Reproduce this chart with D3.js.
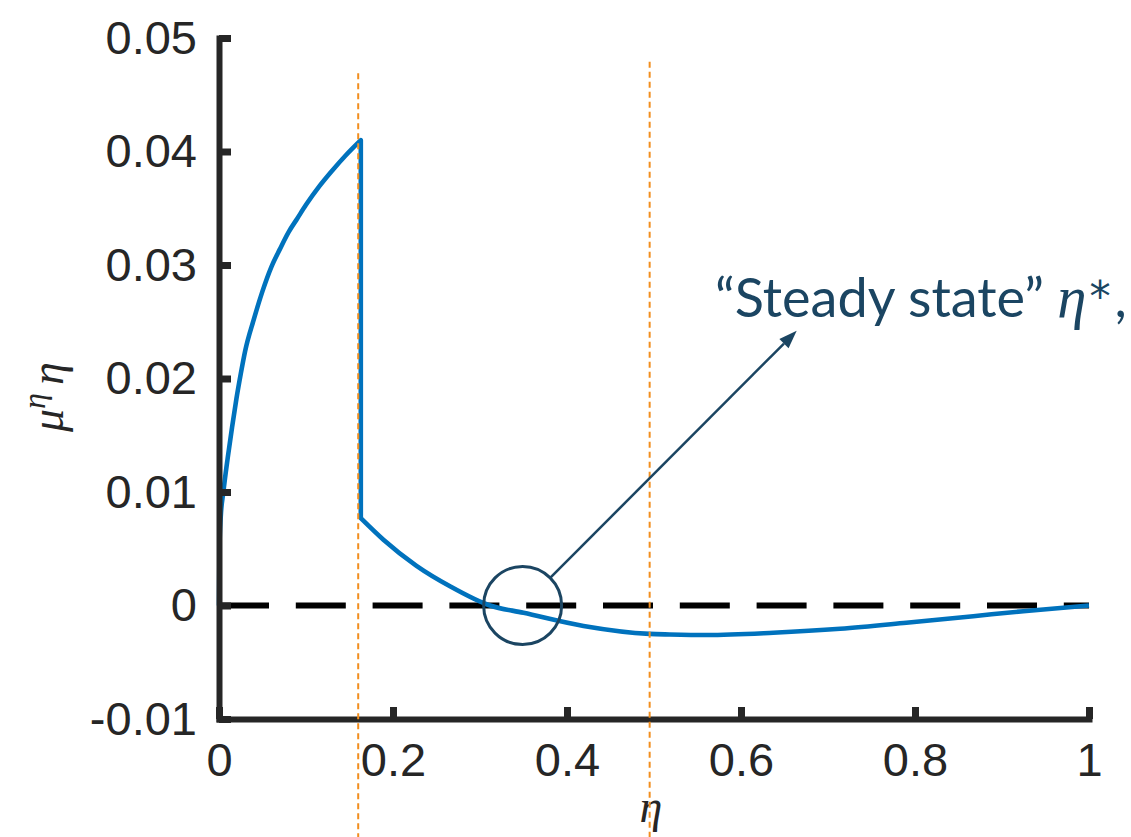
<!DOCTYPE html>
<html>
<head>
<meta charset="utf-8">
<script src="https://cdn.jsdelivr.net/npm/d3@7"></script>
<style>
  html, body { margin: 0; padding: 0; background: #fff; }
  svg { display: block; }
</style>
</head>
<body>
<svg id="chart" width="1131" height="837"></svg>
<script>
// Drift of the state variable, mu^eta * eta, as a function of eta.
// Left branch: below the first regime boundary (jump at eta ~ 0.163).
const etaLeft = [0, 0.0005, 0.002, 0.005, 0.010, 0.015, 0.020, 0.025, 0.030, 0.040, 0.050, 0.060, 0.070, 0.080, 0.090, 0.100, 0.115, 0.130, 0.145, 0.163];
const muLeft  = [0, 0.0050, 0.0078, 0.0100, 0.0130, 0.0157, 0.0182, 0.0204, 0.0224, 0.0252, 0.0277, 0.0298, 0.0314, 0.0329, 0.0341, 0.0353, 0.0369, 0.0383, 0.0396, 0.0410];
// Right branch: after the jump down, crossing zero near eta ~ 0.31.
const etaRight = [0.163, 0.189, 0.227, 0.2655, 0.3115, 0.350, 0.419, 0.495, 0.518, 0.561, 0.637, 0.714, 0.790, 0.867, 0.9245, 1.0];
const muRight  = [0.0077, 0.0058, 0.0035, 0.0017, 0.0000, -0.00064, -0.0018, -0.0025, -0.00255, -0.0026, -0.0024, -0.00205, -0.00152, -0.00094, -0.0005, 0.0];

const xTicks = [0, 0.2, 0.4, 0.6, 0.8, 1];
const xTickLabels = ["0", "0.2", "0.4", "0.6", "0.8", "1"];
const yTicks = [-0.01, 0, 0.01, 0.02, 0.03, 0.04, 0.05];
const yTickLabels = ["-0.01", "0", "0.01", "0.02", "0.03", "0.04", "0.05"];

// Regime boundaries (dotted verticals) and where each one starts at the top
const regimeEta = [0.16, 0.495];
const regimeTop = [0.0469, 0.0479];

// Steady-state call-out: circled crossing, arrow tip and caption anchor
const steadyEta = 0.349;
const arrowTip = [0.664, 0.0242];
const captionAt = [0.570, 0.0254];

const W = 1131, H = 837;
const axisColor = "#262626";
const noteColor = "#1b4562";

const svg = d3.select("#chart");
svg.append("rect").attr("width", W).attr("height", H).attr("fill", "#fff");

const x = d3.scaleLinear().domain([0, 1]).range([219, 1089]);
const y = d3.scaleLinear().domain([-0.01, 0.05]).range([719, 38]);

// Zero reference line (long dashes)
svg.append("line")
  .attr("x1", x(0)).attr("x2", x(1))
  .attr("y1", y(0)).attr("y2", y(0))
  .attr("stroke", "#000").attr("stroke-width", 6)
  .attr("stroke-dasharray", "50,26.8");

// Curve: two monotone branches joined by the vertical jump
const line = d3.line().x(d => x(d[0])).y(d => y(d[1])).curve(d3.curveMonotoneX);
const left = etaLeft.map((e, i) => [e, muLeft[i]]);
const right = etaRight.map((e, i) => [e, muRight[i]]);
const pathD = line(left) + "L" + line(right).slice(1);
svg.append("path")
  .attr("d", pathD)
  .attr("fill", "none")
  .attr("stroke", "#0072BD")
  .attr("stroke-width", 4.6)
  .attr("stroke-linejoin", "round");

// Axes
const gx = svg.append("g")
  .attr("transform", `translate(0,${y(-0.01)})`)
  .call(d3.axisBottom(x).tickValues(xTicks).tickFormat((d, i) => xTickLabels[i])
    .tickSizeInner(-12).tickSizeOuter(0).tickPadding(24));
const gy = svg.append("g")
  .attr("transform", `translate(${x(0)},0)`)
  .call(d3.axisLeft(y).tickValues(yTicks).tickFormat((d, i) => yTickLabels[i])
    .tickSizeInner(-12).tickSizeOuter(0).tickPadding(22));

[gx, gy].forEach(g => {
  g.select(".domain").attr("stroke", axisColor).attr("stroke-width", 6).attr("stroke-linecap", "square");
  g.selectAll(".tick line").attr("stroke", axisColor).attr("stroke-width", 7);
  g.selectAll(".tick text")
    .attr("fill", axisColor)
    .style("font-family", "'Liberation Sans', Arial, sans-serif")
    .style("font-size", "47px");
});

// Axis titles
const serif = "'Liberation Serif', 'Times New Roman', serif";
svg.append("text")
  .attr("x", 651).attr("y", 822)
  .attr("text-anchor", "middle")
  .style("font-family", serif).style("font-style", "italic").style("font-size", "46px")
  .attr("fill", axisColor)
  .text("η");

const yl = svg.append("text")
  .attr("transform", "translate(63,432) rotate(-90)")
  .attr("text-anchor", "start")
  .style("font-family", serif).style("font-style", "italic").style("font-size", "46px")
  .attr("fill", axisColor);
yl.append("tspan").text("μ");
yl.append("tspan").attr("dy", -18).style("font-size", "32px").text("η");
yl.append("tspan").attr("dy", 18).attr("dx", 8).text("η");

// Regime boundaries
regimeEta.forEach((e, i) => {
  svg.append("line")
    .attr("x1", x(e)).attr("x2", x(e))
    .attr("y1", y(regimeTop[i])).attr("y2", H)
    .attr("stroke", "#F28E1E").attr("stroke-width", 2)
    .attr("stroke-dasharray", "6,4");
});

// Steady-state call-out
const cx = x(steadyEta), cy = y(0), r = 39;
svg.append("circle")
  .attr("cx", cx).attr("cy", cy).attr("r", r)
  .attr("fill", "none").attr("stroke", noteColor).attr("stroke-width", 3);

const tx = x(arrowTip[0]), ty = y(arrowTip[1]);
const ang = Math.atan2(ty - cy, tx - cx);
const sx = cx + r * Math.cos(ang), sy = cy + r * Math.sin(ang);
const headLen = 18, headHalf = 6.5;
const bx = tx - headLen * Math.cos(ang), by = ty - headLen * Math.sin(ang);
svg.append("line")
  .attr("x1", sx).attr("y1", sy).attr("x2", bx).attr("y2", by)
  .attr("stroke", noteColor).attr("stroke-width", 2.5);
const nx = -Math.sin(ang), ny = Math.cos(ang);
svg.append("polygon")
  .attr("points", [
    [tx, ty],
    [bx + headHalf * nx, by + headHalf * ny],
    [bx - headHalf * nx, by - headHalf * ny]
  ].map(p => p.join(",")).join(" "))
  .attr("fill", noteColor);

const cap = svg.append("text")
  .attr("x", x(captionAt[0])).attr("y", y(captionAt[1]))
  .attr("fill", noteColor)
  .style("font-family", "Lato, 'Open Sans', sans-serif")
  .style("font-size", "46px");
cap.append("tspan").text("\u201CSteady state\u201D ");
cap.append("tspan").style("font-family", serif).style("font-style", "italic").style("font-size", "50px").text("η");
cap.append("tspan").attr("dx", 3).attr("dy", -6).style("font-family", "'DejaVu Sans', sans-serif").style("font-size", "36px").text("*");
cap.append("tspan").attr("dx", 4).attr("dy", 6).text(",");

// Fit the caption to its span
const capW = cap.node().getComputedTextLength();
const target = 405;
const k = target / capW;
cap.selectAll("tspan").each(function () {
  const fs = parseFloat(d3.select(this).style("font-size"));
  d3.select(this).style("font-size", (fs * k) + "px");
});
</script>
</body>
</html>
